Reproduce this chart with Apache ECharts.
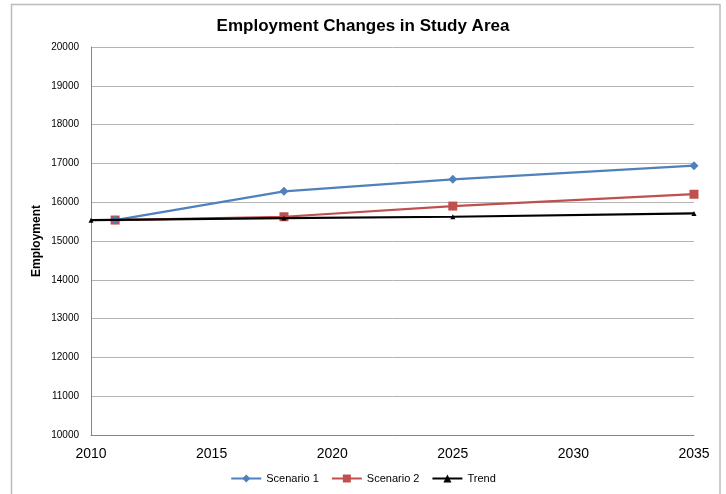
<!DOCTYPE html>
<html>
<head>
<meta charset="utf-8">
<script src="https://cdn.jsdelivr.net/npm/echarts@6/dist/echarts.min.js"></script>
<style>html,body{margin:0;padding:0;background:#fff}#c{width:726px;height:494px}</style>
</head>
<body>
<div id="c"></div>
<script>
const title = 'Employment Changes in Study Area';
const yName = 'Employment';
const scenarioYears = [2011, 2018, 2025, 2035];
const scenario1 = [15540, 16280, 16590, 16940];
const scenario2 = [15540, 15625, 15900, 16205];
const trendYears = [2010, 2018, 2025, 2035];
const trend = [15535, 15590, 15625, 15710];

const pairs = (xs, ys) => xs.map((x, i) => [x, ys[i]]);
const font = 'Liberation Sans, Arial, sans-serif';

const chart = echarts.init(document.getElementById('c'), null, {renderer: 'canvas'});
chart.setOption({
  animation: false,
  backgroundColor: '#fff',
  title: {
    text: title, left: 'center', top: 13,
    textStyle: {fontFamily: font, fontSize: 17, fontWeight: 'bold', color: '#000'}
  },
  graphic: [{
    type: 'rect', shape: {x: 11.5, y: 4.5, width: 708.5, height: 500},
    style: {fill: 'none', stroke: '#bcbcbc', lineWidth: 1.5}, silent: true
  }, {
    type: 'text', x: 37, y: 241, rotation: Math.PI / 2,
    style: {text: yName, font: 'bold 12px ' + font, fill: '#000', align: 'center', verticalAlign: 'middle'}
  }],
  grid: {left: 91, right: 32, top: 47, bottom: 59},
  legend: {
    bottom: 5, left: 'center', itemGap: 12, itemWidth: 30, itemHeight: 10,
    textStyle: {fontFamily: font, fontSize: 11, color: '#000'},
    data: ['Scenario 1', 'Scenario 2', 'Trend']
  },
  xAxis: {
    type: 'value', min: 2010, max: 2035, interval: 5,
    axisLine: {show: true, lineStyle: {color: '#868686', width: 1}},
    axisTick: {show: false},
    splitLine: {show: false},
    axisLabel: {fontFamily: font, fontSize: 14, color: '#000', margin: 12, formatter: v => String(v)}
  },
  yAxis: {
    type: 'value', min: 10000, max: 20000, interval: 1000,
    axisLine: {show: true, lineStyle: {color: '#868686', width: 1}},
    axisTick: {show: false},
    splitLine: {show: true, lineStyle: {color: '#b3b3b3', width: 1}},
    axisLabel: {fontFamily: font, fontSize: 10, color: '#000', margin: 12, formatter: v => String(v)}
  },
  series: [{
    name: 'Scenario 1', type: 'line', data: pairs(scenarioYears, scenario1),
    symbol: 'diamond', symbolSize: 9,
    lineStyle: {color: '#4F81BD', width: 2.25},
    itemStyle: {color: '#4F81BD'}, z: 3
  }, {
    name: 'Scenario 2', type: 'line', data: pairs(scenarioYears, scenario2),
    symbol: 'rect', symbolSize: 9,
    lineStyle: {color: '#C0504D', width: 2.25},
    itemStyle: {color: '#C0504D'}, z: 2
  }, {
    name: 'Trend', type: 'line', data: pairs(trendYears, trend),
    symbol: 'triangle', symbolSize: 5,
    lineStyle: {color: '#000', width: 2.25},
    itemStyle: {color: '#000'}, z: 4
  }]
});
</script>
</body>
</html>
